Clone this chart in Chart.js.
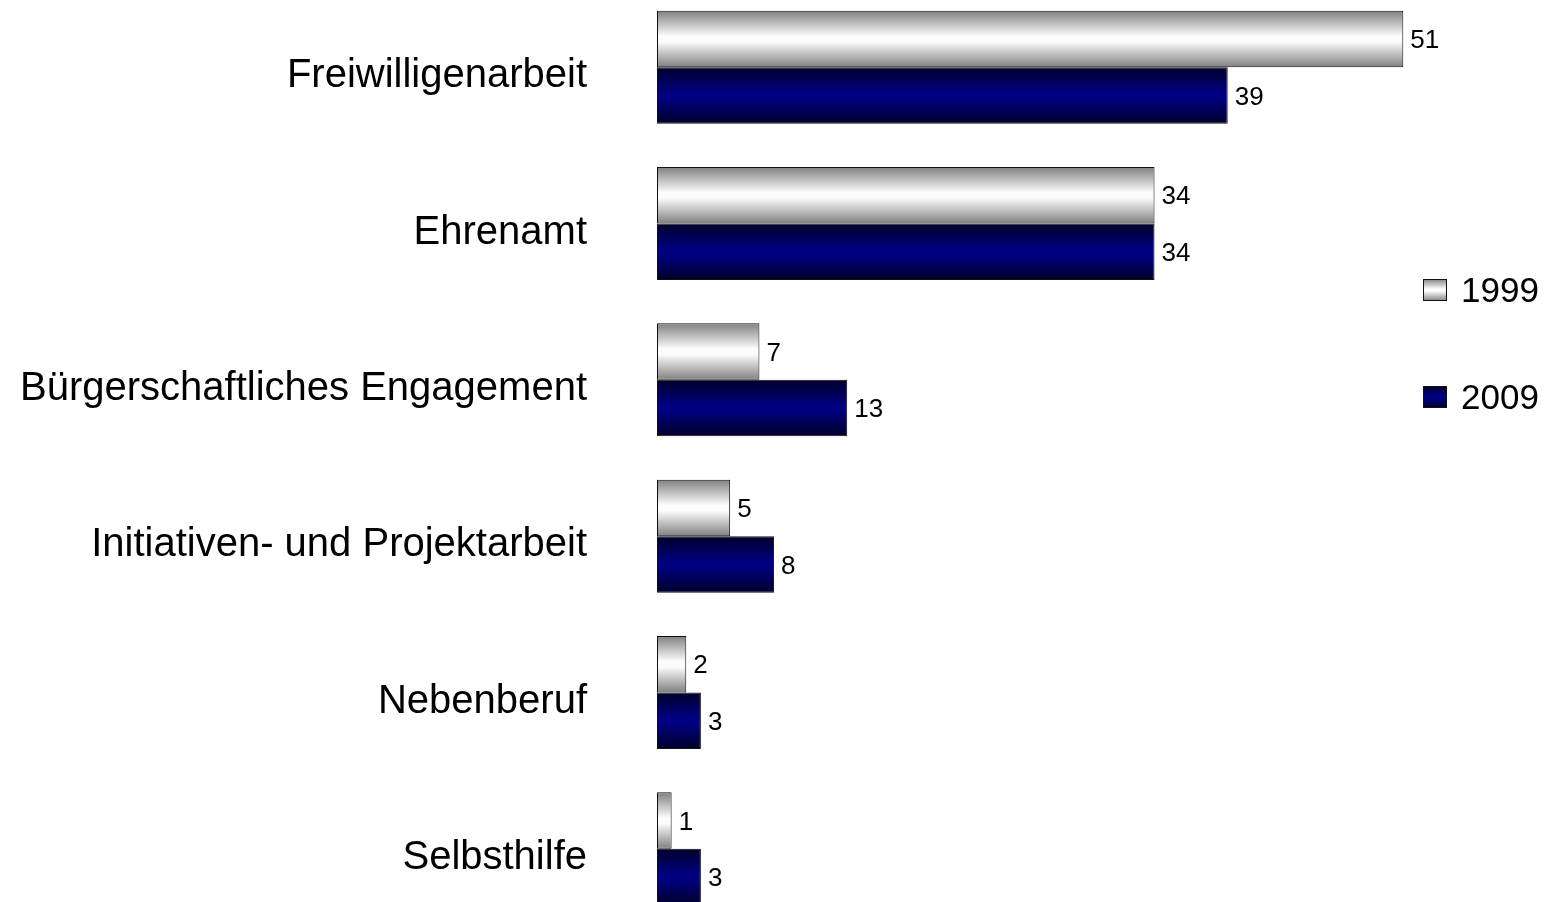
<!DOCTYPE html>
<html>
<head>
<meta charset="utf-8">
<script src="https://cdn.jsdelivr.net/npm/chart.js@4/dist/chart.umd.min.js"></script>
<style>
  html, body { margin: 0; padding: 0; background: #fff; overflow: hidden; }
  #wrap { position: absolute; left: 0; top: -11px; width: 1548px; height: 938px; }
</style>
</head>
<body>
<div id="wrap"><canvas id="engagement"></canvas></div>
<script>
const categories = ['Freiwilligenarbeit', 'Ehrenamt', 'Bürgerschaftliches Engagement', 'Initiativen- und Projektarbeit', 'Nebenberuf', 'Selbsthilfe'];
const values1999 = [51, 34, 7, 5, 2, 1];
const values2009 = [39, 34, 13, 8, 3, 3];
const seriesNames = ['1999', '2009'];

const FONT = '"Liberation Sans", Arial, sans-serif';

// gradient stops per series: edge colour, centre colour
const shades = [
    ['#808080', '#fcfcfc'],
    ['#00002a', '#000080']
];

function barGradient(ctx, top, bottom, i) {
    const g = ctx.createLinearGradient(0, top, 0, bottom);
    g.addColorStop(0, shades[i][0]);
    g.addColorStop(0.45, shades[i][1]);
    g.addColorStop(0.55, shades[i][1]);
    g.addColorStop(1, shades[i][0]);
    return g;
}

// every bar gets its own gradient across its thickness
const barShading = {
    id: 'barShading',
    beforeDatasetsDraw(chart) {
        const { ctx } = chart;
        chart.data.datasets.forEach((ds, i) => {
            chart.getDatasetMeta(i).data.forEach(bar => {
                const top = bar.y - bar.height / 2, bottom = bar.y + bar.height / 2;
                bar.options.backgroundColor = barGradient(ctx, top, bottom, i);
            });
        });
    }
};

const valueLabels = {
    id: 'valueLabels',
    afterDatasetsDraw(chart) {
        const { ctx } = chart;
        ctx.save();
        ctx.font = '26px ' + FONT;
        ctx.fillStyle = '#000';
        ctx.textAlign = 'left';
        ctx.textBaseline = 'middle';
        chart.data.datasets.forEach((ds, i) => {
            chart.getDatasetMeta(i).data.forEach((bar, index) => {
                ctx.fillText(ds.data[index], bar.x + 7, bar.y + 2);
            });
        });
        ctx.restore();
    }
};

const sideLegend = {
    id: 'sideLegend',
    afterDraw(chart) {
        const { ctx } = chart;
        const rows = [301, 408]; // canvas coords (wrapper shifted by -11)
        ctx.save();
        ctx.font = '35px ' + FONT;
        ctx.textBaseline = 'middle';
        ctx.textAlign = 'left';
        seriesNames.forEach((name, i) => {
            const y = rows[i];
            const x = 1423, w = 24, h = 22;
            ctx.fillStyle = barGradient(ctx, y - h / 2, y + h / 2, i);
            ctx.fillRect(x, y - h / 2, w, h);
            ctx.strokeStyle = '#111';
            ctx.lineWidth = 1;
            ctx.strokeRect(x + 0.5, y - h / 2 + 0.5, w - 1, h - 1);
            ctx.fillStyle = '#000';
            ctx.fillText(name, 1461, y + 2);
        });
        ctx.restore();
    }
};

const barStyle = {
    // scriptable so that each bar keeps its own options object
    backgroundColor: () => '#888',
    borderWidth: 1,
    borderColor: '#111',
    borderSkipped: false,
    categoryPercentage: 0.723,
    barPercentage: 1
};

new Chart(document.getElementById('engagement'), {
    type: 'bar',
    data: {
        labels: categories,
        datasets: [
            { label: seriesNames[0], data: values1999, ...barStyle },
            { label: seriesNames[1], data: values2009, ...barStyle }
        ]
    },
    options: {
        indexAxis: 'y',
        responsive: true,
        maintainAspectRatio: false,
        animation: false,
        layout: { padding: { left: 0, right: 13, top: 0, bottom: 0 } },
        scales: {
            x: {
                display: false,
                min: 0,
                max: 60
            },
            y: {
                grid: { display: false, drawTicks: false },
                border: { display: false },
                afterFit(scale) {
                    scale.width = 657;
                    scale.paddingTop = 0;
                    scale.paddingBottom = 0;
                },
                ticks: {
                    color: '#000',
                    padding: 70,
                    labelOffset: 9,
                    font: { family: FONT, size: 40 }
                }
            }
        },
        plugins: {
            legend: { display: false },
            tooltip: { enabled: false }
        }
    },
    plugins: [barShading, valueLabels, sideLegend]
});
</script>
</body>
</html>
